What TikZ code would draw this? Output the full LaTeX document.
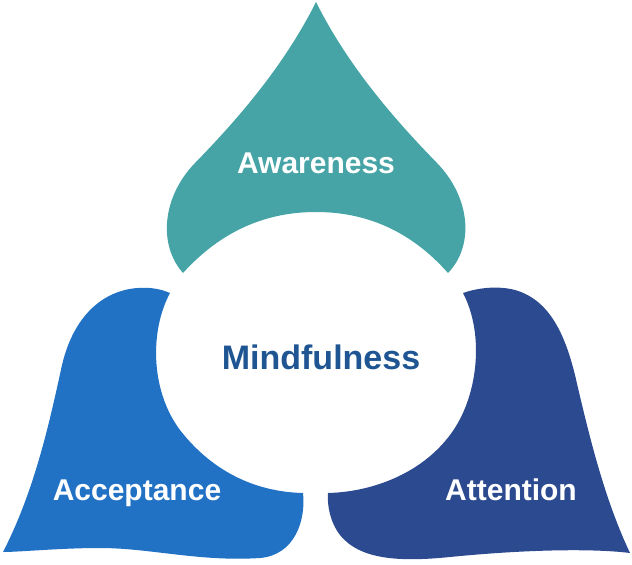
\documentclass[tikz,border=0pt]{standalone}
\usepackage{fontspec}
\setmainfont{Liberation Sans}
\definecolor{teal1}{HTML}{46A4A6}
\definecolor{blue1}{HTML}{2171C5}
\definecolor{navy1}{HTML}{2B4A8F}
\definecolor{mind}{HTML}{1E5592}
\begin{document}
\begin{tikzpicture}[x=1pt,y=-1pt,
  lbl/.style={font=\fontsize{30}{30}\selectfont\bfseries, text=white, inner sep=0pt, anchor=base}]
\useasboundingbox (0,0) rectangle (632,565);
% Awareness
\fill[teal1] (316,2) .. controls (350,70) and (400,125) .. (437,163)
  .. controls (470,197) and (475,245) .. (448,273)
  .. controls (410,230) and (365,212) .. (316,212)
  .. controls (267,212) and (222,230) .. (183,273)
  .. controls (158,245) and (162,197) .. (195,163)
  .. controls (232,125) and (282,70) .. (316,2) -- cycle;
% Acceptance
\fill[blue1] (170,293) .. controls (150,330) and (150,390) .. (180,430)
  .. controls (215,475) and (260,492) .. (303,493)
  .. controls (306,520) and (295,555) .. (260,558)
  .. controls (200,562) and (150,548) .. (100,548)
  .. controls (60,548) and (20,552) .. (3,552)
  .. controls (35,490) and (50,420) .. (62,365)
  .. controls (75,310) and (110,285) .. (150,288)
  .. controls (160,289) and (165,291) .. (170,293) -- cycle;
% Attention
\fill[navy1] (463,293) .. controls (480,287) and (500,286) .. (515,290)
  .. controls (550,300) and (565,335) .. (575,375)
  .. controls (590,440) and (605,500) .. (630,553)
  .. controls (590,548) and (520,550) .. (450,557)
  .. controls (400,562) and (360,560) .. (340,535)
  .. controls (330,522) and (327,505) .. (328,493)
  .. controls (370,492) and (420,475) .. (450,435)
  .. controls (478,398) and (485,335) .. (463,293) -- cycle;
\node[lbl] (aw) at (316,173) {Awareness};
\node[lbl] (ac) at (137,500) {Acceptance};
\node[lbl] (at) at (511,500) {Attention};
\node[font=\fontsize{34}{34}\selectfont\bfseries, text=mind, inner sep=0pt, anchor=base] (mf) at (321,369) {Mindfulness};
\end{tikzpicture}
\end{document}
